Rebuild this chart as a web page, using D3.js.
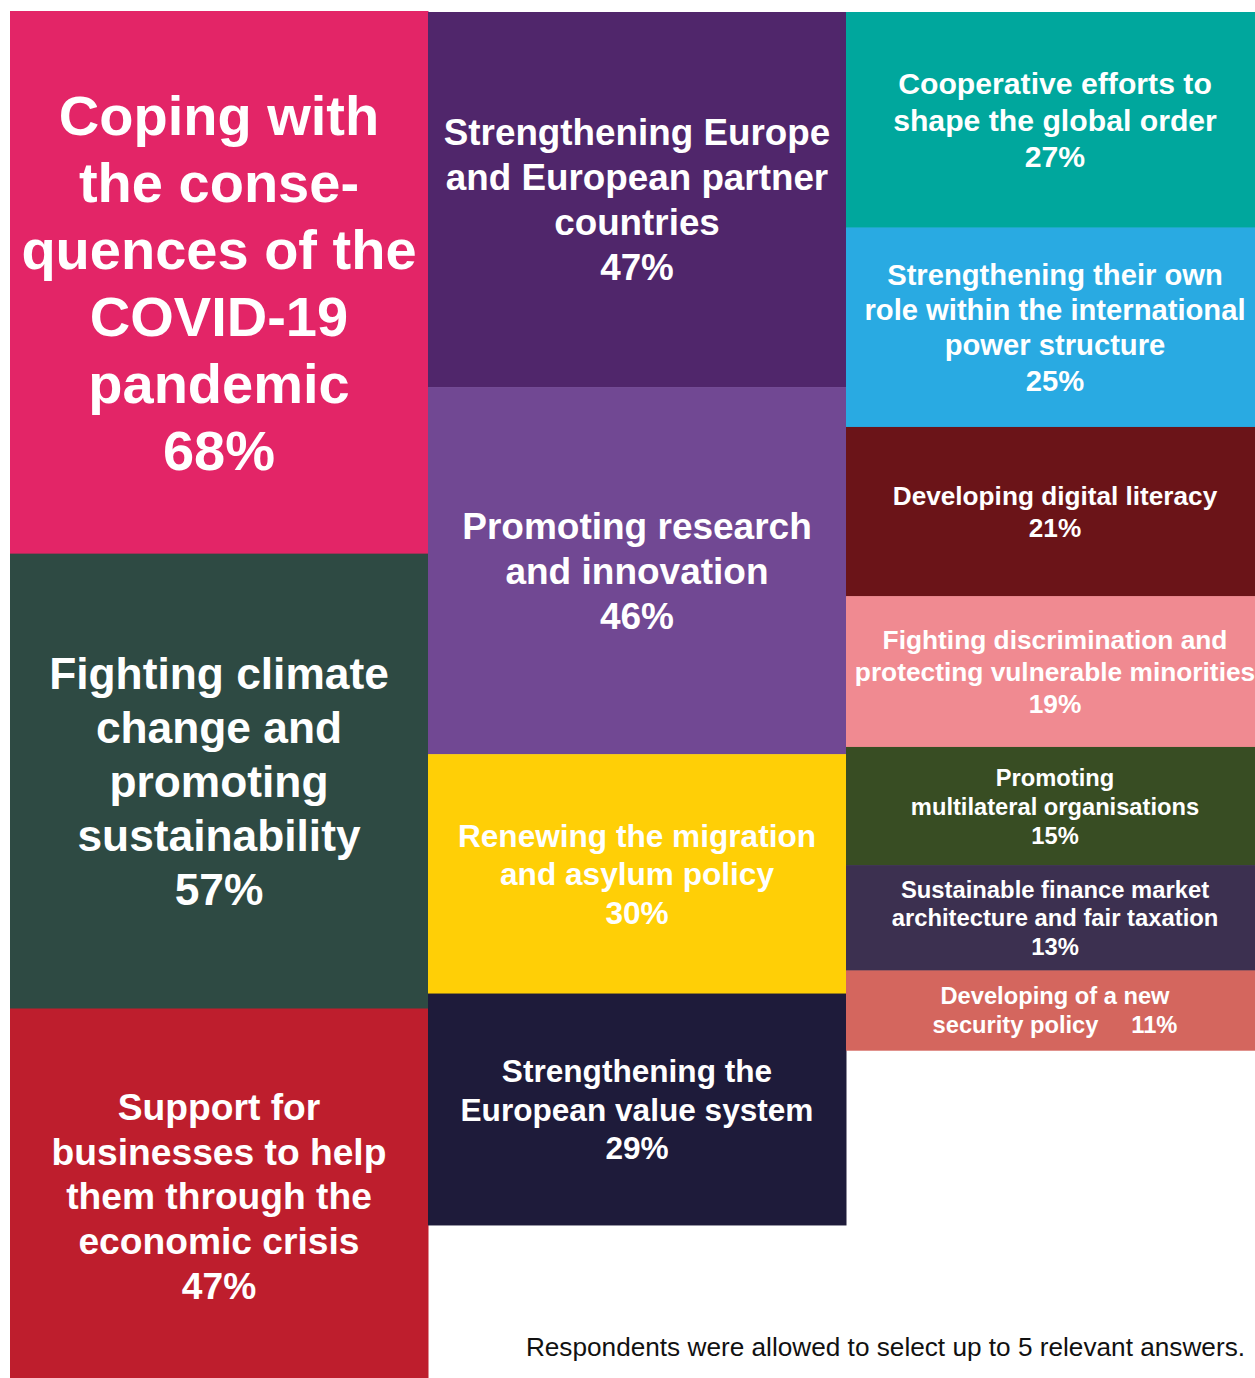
<!DOCTYPE html>
<html>
<head>
<meta charset="utf-8">
<script src="https://cdn.jsdelivr.net/npm/d3@7"></script>
<style>
  html, body { margin: 0; padding: 0; background: #fff; }
  svg { display: block; }
  text { font-family: "Liberation Sans", Arial, Helvetica, sans-serif; }
</style>
</head>
<body>
<div id="chart"></div>
<script>
// ---- data ----
const categories = [
  "Coping with|the conse-|quences of the|COVID-19|pandemic",
  "Fighting climate|change and|promoting|sustainability",
  "Support for|businesses to help|them through the|economic crisis",
  "Strengthening Europe|and European partner|countries",
  "Promoting research|and innovation",
  "Renewing the migration|and asylum policy",
  "Strengthening the|European value system",
  "Cooperative efforts to|shape the global order",
  "Strengthening their own|role within the international|power structure",
  "Developing digital literacy",
  "Fighting discrimination and|protecting vulnerable minorities",
  "Promoting|multilateral organisations",
  "Sustainable finance market|architecture and fair taxation",
  "Developing of a new|security policy"
];
const percentLabels = [68, 57, 47, 47, 46, 30, 29, 27, 25, 21, 19, 15, 13, 11];
const boxValues = [68, 57, 47, 47, 46, 30, 29, 27, 25, 21.2, 18.9, 14.8, 13.2, 10];
const columnOf = [0, 0, 0, 1, 1, 1, 1, 2, 2, 2, 2, 2, 2, 2];
const colors = ["#E32567", "#2E4A43", "#BE1E2D", "#50266B", "#714893", "#FFCF06", "#1E1B3A",
                "#00A79D", "#29AAE2", "#6B1418", "#F08A91", "#384D23", "#3C3050", "#D4665E"];
const footnote = "Respondents were allowed to select up to 5 relevant answers.";

// ---- styling (layout only) ----
const fontSizes = [56, 44.3, 37.2, 36.8, 37, 31.6, 31.6, 30.2, 29.2, 26.2, 26.3, 23.7, 23.8, 23.7];
const lineHeights = [67, 54, 44.7, 45, 45, 38.5, 38.5, 36.5, 35.3, 32.5, 32, 29, 28.5, 29];
const colTops = [11, 12, 12];

const W = 1255, H = 1378;
const svg = d3.select("#chart").append("svg").attr("width", W).attr("height", H);

const x = d3.scaleBand().domain([0, 1, 2]).range([10, 10 + 418 * 3]).padding(0);
const h = d3.scaleLinear().domain([0, 100]).range([0, 798]);

// stacking per column
const offsets = [0, 0, 0];
const boxes = categories.map((c, i) => {
  const col = columnOf[i];
  const y0 = colTops[col] + h(offsets[col]);
  offsets[col] += boxValues[i];
  const y1 = colTops[col] + h(offsets[col]);
  return { i, col, y0, y1, cat: c, pct: percentLabels[i] };
});

const g = svg.selectAll("g.box").data(boxes).join("g").attr("class", "box");

g.append("rect")
  .attr("x", d => x(d.col))
  .attr("y", d => d.y0)
  .attr("width", x.bandwidth() + 0.5)
  .attr("height", d => d.y1 - d.y0 + 0.5)
  .attr("fill", d => colors[d.i]);

g.each(function(d) {
  let lines = d.cat.split("|");
  if (d.i === 13) {
    lines[lines.length - 1] = lines[lines.length - 1] + "\u00A0\u00A0\u00A0\u00A0\u00A0" + d.pct + "%";
  } else {
    lines.push(d.pct + "%");
  }
  const fs = fontSizes[d.i], lh = lineHeights[d.i];
  const cx = x(d.col) + x.bandwidth() / 2;
  const cy = (d.y0 + d.y1) / 2;
  const n = lines.length;
  const t = d3.select(this).append("text")
    .attr("text-anchor", "middle")
    .attr("font-weight", "bold")
    .attr("font-size", fs)
    .attr("fill", "#ffffff");
  lines.forEach((ln, k) => {
    t.append("tspan")
      .attr("x", cx)
      .attr("y", cy + (k - (n - 1) / 2) * lh + 0.36 * fs)
      .text(ln);
  });
});

svg.append("text")
  .attr("x", 1245)
  .attr("y", 1356)
  .attr("text-anchor", "end")
  .attr("font-size", 26.2)
  .attr("fill", "#111")
  .text(footnote);
</script>
</body>
</html>
